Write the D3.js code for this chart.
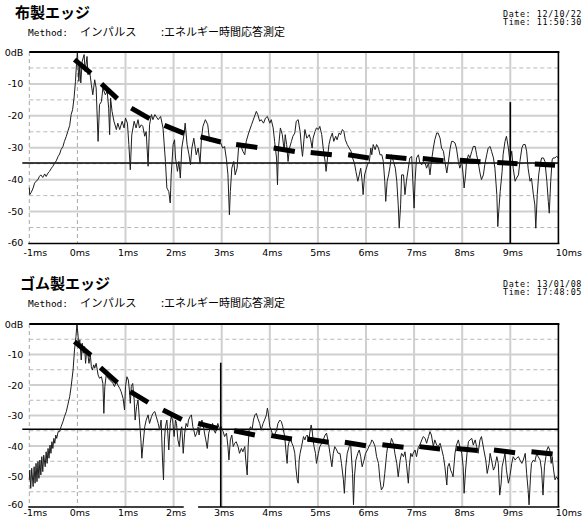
<!DOCTYPE html>
<html><head><meta charset="utf-8">
<script src="https://cdn.jsdelivr.net/npm/d3@7"></script>
<style>
html,body{margin:0;padding:0;background:#fff;}
svg{display:block;}
</style>
</head><body>
<script>
// ---------- data ----------
const xTicks = [-1,0,1,2,3,4,5,6,7,8,9,10];
const xTickLabels = ["-1ms","0ms","1ms","2ms","3ms","4ms","5ms","6ms","7ms","8ms","9ms","10ms"];
const yTicks = [0,-10,-20,-30,-40,-50,-60];
const yTickLabels = ["0dB","-10","-20","-30","-40","-50","-60"];
const yMinorTicks = [-5,-15,-25,-35,-45,-55];

const titles = ["布製エッジ","ゴム製エッジ"];
const methodLabel = "Method:";
const methodName = "インパルス";
const measureName = ":エネルギー時間応答測定";
const dates = ["Date: 12/10/22","Date: 13/01/08"];
const times = ["Time: 11:50:30","Time: 17:48:05"];

const thresholds = [-34.8, -34.5];
const cursorTimes = [9.0, 2.98];
const cursorTops = [-15.7, -12.7];

// 布製エッジ: [time ms, level dB]
const signalTop = [
[-1.00,-42.5],[-0.99,-44.7],[-0.96,-44.0],[-0.92,-42.6],[-0.89,-41.1],[-0.86,-40.5],[-0.82,-40.0],[-0.79,-39.0],[-0.76,-38.5],[-0.72,-39.3],[-0.68,-38.2],[-0.65,-39.0],[-0.61,-37.9],[-0.58,-37.4],[-0.54,-36.4],[-0.51,-35.8],[-0.47,-34.8],[-0.44,-34.1],[-0.40,-32.7],[-0.37,-32.0],[-0.34,-30.6],[-0.30,-29.6],[-0.27,-28.0],[-0.23,-26.4],[-0.20,-24.9],[-0.16,-23.0],[-0.13,-19.6],[-0.10,-18.1],[-0.07,-14.4],[-0.04,-9.2],[-0.02,-4.0],[0.0,0.0],
[0.03,-9.2],[0.05,-4.0],[0.07,-9.7],[0.10,-2.9],[0.14,-0.8],[0.16,-6.1],[0.20,-1.4],[0.22,-7.1],[0.25,-5.5],[0.29,-10.2],[0.32,-13.4],[0.36,-8.7],[0.39,-11.3],[0.43,-28.0],[0.46,-16.5],[0.50,-15.5],[0.53,-11.3],[0.58,-13.4],[0.62,-12.3],[0.65,-17.6],[0.67,-25.9],[0.69,-14.4],[0.72,-18.6],[0.76,-21.7],[0.81,-24.3],[0.84,-22.3],[0.88,-24.3],[0.93,-21.7],[0.97,-23.8],[1.00,-20.7],[1.04,-22.3],[1.07,-29.0],[1.10,-36.9],[1.13,-26.0],[1.18,-21.7],[1.22,-23.8],[1.26,-21.2],[1.29,-23.8],[1.33,-22.8],[1.36,-23.3],[1.40,-26.4],[1.43,-24.9],[1.47,-35.8],[1.50,-22.8],[1.54,-19.6],[1.57,-21.2],[1.61,-19.6],[1.68,-21.2],[1.73,-20.2],[1.78,-23.8],[1.83,-34.3],[1.86,-42.6],[1.90,-43.7],[1.93,-47.3],[1.95,-38.5],[1.99,-29.0],[2.02,-27.5],[2.04,-33.2],[2.08,-37.4],[2.11,-34.3],[2.14,-39.5],[2.17,-30.1],[2.22,-25.4],[2.24,-22.3],[2.28,-29.0],[2.32,-32.2],[2.35,-35.3],[2.38,-30.1],[2.42,-27.0],[2.47,-32.2],[2.51,-30.1],[2.55,-34.8],[2.58,-27.0],[2.61,-23.3],[2.66,-21.2],[2.71,-22.8],[2.75,-28.0],[2.78,-27.5],[2.83,-28.0],[2.87,-27.0],[2.92,-28.5],[2.98,-28.5],[3.02,-30.1],[3.06,-29.6],[3.10,-33.8],[3.13,-38.5],[3.16,-51.0],[3.18,-43.7],[3.21,-36.4],[3.25,-34.3],[3.28,-38.5],[3.32,-36.4],[3.35,-30.1],[3.39,-29.0],[3.44,-31.1],[3.48,-32.2],[3.51,-28.0],[3.56,-25.4],[3.62,-22.8],[3.67,-20.7],[3.72,-18.6],[3.75,-19.6],[3.79,-21.7],[3.82,-21.2],[3.87,-22.3],[3.91,-20.7],[3.95,-20.2],[4.00,-22.3],[4.03,-21.2],[4.07,-23.8],[4.10,-28.0],[4.14,-33.2],[4.16,-41.6],[4.18,-30.1],[4.22,-23.8],[4.26,-25.9],[4.30,-31.1],[4.32,-25.9],[4.35,-29.0],[4.38,-34.3],[4.41,-30.1],[4.45,-28.0],[4.48,-26.4],[4.52,-25.4],[4.55,-21.7],[4.59,-21.2],
[4.63,-24.9],[4.66,-30.1],[4.68,-32.7],[4.71,-27.5],[4.73,-24.3],[4.77,-27.0],[4.80,-26.4],[4.82,-25.9],[4.85,-27.5],[4.88,-30.1],[4.90,-27.0],[4.94,-24.9],[4.97,-23.8],[5.01,-24.3],[5.04,-23.3],[5.08,-25.9],[5.11,-30.1],[5.15,-34.3],[5.17,-37.4],[5.20,-33.2],[5.23,-29.0],[5.26,-27.0],[5.30,-25.4],[5.33,-28.0],[5.37,-26.4],[5.40,-27.5],[5.44,-25.4],[5.47,-25.9],[5.51,-24.3],[5.54,-24.9],[5.57,-27.5],[5.61,-29.0],[5.65,-30.1],[5.69,-31.1],[5.72,-33.2],[5.76,-34.8],[5.79,-37.4],[5.83,-40.5],[5.86,-38.5],[5.89,-36.4],[5.92,-40.5],[5.94,-44.7],[5.97,-38.5],[6.00,-36.9],[6.03,-35.3],[6.07,-34.3],[6.10,-30.1],[6.12,-32.2],[6.15,-29.0],[6.19,-30.6],[6.22,-29.0],[6.26,-30.1],[6.29,-32.2],[6.33,-32.2],[6.36,-34.3],[6.39,-40.5],[6.41,-46.8],[6.44,-40.5],[6.47,-38.5],[6.50,-35.8],[6.53,-32.2],[6.57,-34.3],[6.61,-36.4],[6.64,-40.5],[6.67,-47.9],[6.69,-55.2],[6.72,-47.9],[6.74,-38.5],[6.78,-38.5],[6.81,-44.7],[6.84,-40.5],[6.88,-36.4],[6.91,-33.2],[6.95,-32.7],[6.98,-42.6],[7.00,-48.9],[7.02,-40.5],[7.05,-33.2],[7.09,-32.2],[7.12,-34.8],[7.16,-35.3],[7.19,-34.3],[7.23,-34.8],[7.26,-36.4],[7.30,-34.8],[7.33,-38.5],[7.36,-34.3],[7.40,-30.1],[7.43,-27.5],[7.47,-25.4],[7.50,-25.4],[7.54,-27.0],[7.57,-30.1],[7.61,-31.1],[7.64,-34.3],[7.68,-37.9],[7.71,-34.8],[7.75,-30.1],[7.78,-28.0],[7.81,-28.0],[7.85,-28.5],[7.88,-30.1],[7.92,-34.3],[7.95,-36.4],[7.99,-34.3],[8.02,-38.5],[8.04,-42.6],[8.07,-38.5],[8.09,-34.3],[8.13,-32.2],[8.16,-33.2],[8.20,-31.1],[8.23,-29.6],[8.27,-29.6],[8.30,-32.2],[8.33,-34.3],[8.37,-37.9],[8.40,-40.0],[8.44,-38.5],[8.47,-35.3],[8.51,-32.2],[8.54,-30.1],[8.58,-29.6],[8.61,-31.1],[8.65,-33.2],[8.68,-36.4],[8.72,-44.7],[8.74,-54.7],[8.76,-49.9],[8.79,-43.7],[8.83,-37.4],[8.85,-32.2],[8.89,-28.0],[8.92,-26.4],[8.96,-30.1],[8.99,-34.3],[9.03,-31.1],[9.06,-36.4],[9.10,-40.5],[9.13,-39.5],[9.17,-38.5],[9.20,-34.3],[9.24,-30.1],[9.27,-29.0],[9.31,-29.0],[9.34,-31.1],[9.37,-36.4],[9.41,-40.5],[9.44,-39.5],[9.48,-44.7],[9.51,-47.9],[9.53,-55.2],[9.56,-44.7],[9.59,-38.5],[9.62,-35.3],[9.65,-33.2],[9.69,-33.2],[9.72,-34.3],[9.76,-40.5],[9.79,-46.8],[9.81,-50.5],[9.84,-40.5],[9.87,-33.8],[9.89,-33.2],[9.93,-33.2],[9.96,-32.7],[10.0,-33.2]
];

// ゴム製エッジ: [time ms, level dB]
const signalBottom = [
[-1.00,-51.1],[-0.99,-47.9],[-0.97,-53.9],[-0.95,-47.3],[-0.92,-53.3],[-0.90,-46.8],[-0.88,-52.2],[-0.86,-45.7],[-0.84,-51.7],[-0.82,-45.1],[-0.80,-50.6],[-0.78,-44.6],[-0.76,-49.5],[-0.74,-43.5],[-0.72,-48.4],[-0.70,-43.0],[-0.67,-46.8],[-0.65,-41.9],[-0.63,-45.7],[-0.61,-40.8],[-0.59,-44.0],[-0.57,-39.7],[-0.55,-42.4],[-0.53,-38.6],[-0.51,-40.8],[-0.49,-37.5],[-0.47,-39.1],[-0.45,-36.4],[-0.43,-37.5],[-0.40,-35.3],[-0.37,-35.3],[-0.34,-33.7],[-0.30,-32.0],[-0.27,-30.4],[-0.23,-28.7],[-0.20,-26.6],[-0.16,-23.8],[-0.13,-20.5],[-0.09,-15.1],[-0.06,-8.5],[-0.03,-4.2],[-0.01,0.0],
[0.01,-3.1],[0.03,-7.4],[0.05,-5.2],[0.08,-11.8],[0.10,-6.3],[0.12,-9.6],[0.15,-7.4],[0.17,-12.9],[0.19,-9.1],[0.22,-10.2],[0.24,-12.9],[0.27,-10.2],[0.29,-14.0],[0.31,-15.1],[0.34,-13.4],[0.36,-14.5],[0.39,-12.9],[0.43,-16.7],[0.46,-17.8],[0.50,-17.3],[0.53,-19.5],[0.55,-29.3],[0.57,-20.5],[0.60,-16.7],[0.64,-17.8],[0.67,-18.4],[0.71,-18.9],[0.74,-19.5],[0.77,-20.5],[0.81,-18.9],[0.84,-20.0],[0.88,-21.1],[0.91,-22.2],[0.95,-24.4],[0.98,-28.2],[1.00,-20.5],[1.03,-17.3],[1.06,-18.4],[1.08,-21.6],[1.10,-26.0],[1.12,-20.5],[1.15,-19.5],[1.18,-24.9],[1.20,-31.5],[1.23,-27.1],[1.26,-24.9],[1.29,-31.5],[1.32,-38.0],[1.34,-44.0],[1.36,-40.2],[1.40,-33.7],[1.43,-31.5],[1.47,-29.8],[1.50,-32.6],[1.54,-30.4],[1.57,-29.3],[1.61,-28.7],[1.64,-30.4],[1.68,-32.6],[1.71,-34.8],[1.74,-31.5],[1.77,-44.6],[1.79,-51.1],[1.81,-38.0],[1.83,-33.7],[1.86,-31.5],[1.88,-35.8],[1.90,-41.3],[1.93,-32.6],[1.95,-30.4],[1.98,-31.5],[2.01,-36.9],[2.04,-31.5],[2.06,-32.6],[2.09,-38.0],[2.12,-40.2],[2.15,-34.8],[2.17,-33.7],[2.20,-42.4],[2.23,-35.8],[2.26,-32.6],[2.29,-33.7],[2.31,-31.5],[2.34,-30.4],[2.37,-29.8],[2.40,-33.7],[2.42,-34.8],[2.45,-36.9],[2.48,-35.8],[2.51,-33.7],[2.53,-36.4],[2.56,-32.6],[2.59,-31.5],[2.62,-33.7],[2.65,-36.4],[2.67,-38.0],[2.70,-40.8],[2.73,-35.8],[2.76,-34.2],[2.78,-34.8],[2.81,-32.6],[2.84,-34.8],[2.87,-35.8],[2.90,-33.7],[2.92,-32.6],[2.96,-34.8],[2.99,-33.7],[3.03,-35.3],[3.06,-36.9],[3.10,-35.8],[3.13,-40.2],[3.15,-44.6],[3.18,-38.0],[3.21,-36.4],[3.24,-40.2],[3.27,-39.1],[3.30,-38.6],[3.34,-40.2],[3.37,-42.4],[3.41,-40.8],[3.44,-41.9],[3.48,-40.2],[3.50,-44.6],[3.53,-49.5],[3.55,-40.2],[3.57,-34.8],[3.60,-33.7],[3.63,-34.8],[3.66,-31.5],[3.69,-29.8],[3.72,-29.3],[3.75,-30.9],[3.79,-32.6],[3.82,-34.8],[3.86,-32.6],[3.89,-31.5],[3.93,-29.8],[3.95,-27.6],[3.97,-29.3],[4.00,-33.7],[4.03,-34.8],[4.07,-36.9],[4.10,-36.4],[4.14,-34.8],[4.17,-32.6],[4.21,-31.5],[4.24,-32.0],[4.27,-33.7],[4.31,-36.9],[4.34,-42.4],[4.36,-45.7],[4.38,-40.2],[4.41,-38.0],[4.43,-37.5],[4.46,-39.1],[4.49,-40.2],[4.52,-42.4],[4.54,-46.8],[4.57,-51.1],
[4.59,-52.2],[4.61,-44.6],[4.63,-42.4],[4.66,-40.2],[4.70,-36.9],[4.73,-38.0],[4.75,-36.9],[4.78,-36.4],[4.81,-38.6],[4.83,-35.8],[4.86,-33.1],[4.88,-34.8],[4.90,-38.0],[4.92,-40.2],[4.95,-42.4],[4.97,-45.7],[5.01,-42.4],[5.04,-40.2],[5.08,-39.1],[5.11,-38.0],[5.15,-36.4],[5.18,-35.8],[5.22,-39.1],[5.25,-42.4],[5.29,-46.8],[5.32,-42.4],[5.35,-40.2],[5.39,-41.3],[5.42,-42.4],[5.46,-42.4],[5.49,-45.7],[5.53,-51.1],[5.55,-55.5],[5.58,-46.8],[5.61,-42.4],[5.65,-40.2],[5.68,-39.1],[5.72,-49.0],[5.74,-59.3],[5.76,-50.1],[5.79,-44.6],[5.83,-42.4],[5.86,-41.3],[5.89,-43.5],[5.92,-46.8],[5.96,-44.6],[5.99,-42.4],[6.03,-41.3],[6.06,-40.2],[6.10,-39.1],[6.12,-38.0],[6.15,-38.6],[6.19,-40.2],[6.22,-43.5],[6.26,-45.7],[6.29,-51.1],[6.32,-54.4],[6.36,-53.3],[6.39,-49.0],[6.43,-42.4],[6.46,-39.1],[6.50,-39.7],[6.53,-37.5],[6.57,-39.1],[6.60,-42.4],[6.64,-45.7],[6.67,-50.1],[6.71,-44.6],[6.74,-42.4],[6.78,-43.5],[6.81,-41.9],[6.84,-45.7],[6.88,-52.2],[6.90,-46.8],[6.93,-42.4],[6.96,-43.5],[6.98,-42.4],[7.02,-41.3],[7.05,-43.5],[7.09,-40.2],[7.12,-39.7],[7.16,-38.0],[7.19,-36.9],[7.23,-37.5],[7.26,-39.1],[7.30,-36.9],[7.33,-35.3],[7.36,-36.4],[7.40,-40.2],[7.43,-38.0],[7.47,-39.7],[7.50,-40.2],[7.54,-39.1],[7.57,-40.8],[7.61,-43.5],[7.64,-46.8],[7.68,-52.8],[7.70,-46.8],[7.73,-45.7],[7.76,-47.9],[7.79,-49.0],[7.81,-50.1],[7.85,-42.4],[7.88,-39.7],[7.92,-38.0],[7.95,-40.2],[7.99,-42.4],[8.02,-46.8],[8.04,-55.5],[8.07,-47.9],[8.10,-42.4],[8.13,-38.6],[8.16,-38.0],[8.20,-37.5],[8.23,-39.7],[8.27,-38.0],[8.30,-40.2],[8.33,-42.4],[8.37,-38.0],[8.40,-36.9],[8.42,-38.6],[8.45,-41.3],[8.49,-44.6],[8.52,-49.0],[8.56,-45.7],[8.58,-42.4],[8.61,-44.6],[8.65,-47.9],[8.68,-46.8],[8.72,-43.5],[8.75,-45.7],[8.78,-56.1],[8.81,-52.2],[8.83,-46.8],[8.86,-44.6],[8.89,-42.4],[8.92,-47.9],[8.96,-52.2],[8.99,-50.1],[9.03,-45.7],[9.06,-43.5],[9.10,-44.6],[9.13,-44.0],[9.17,-43.5],[9.20,-44.6],[9.24,-45.7],[9.27,-44.6],[9.31,-42.4],[9.34,-49.0],[9.37,-54.4],[9.39,-59.3],[9.42,-50.1],[9.44,-45.7],[9.48,-44.6],[9.51,-45.1],[9.55,-42.4],[9.58,-43.5],[9.62,-44.6],[9.65,-47.9],[9.68,-56.1],[9.71,-46.8],[9.74,-43.5],[9.76,-41.3],[9.79,-40.2],[9.82,-41.3],[9.85,-45.7],[9.87,-43.5],[9.90,-47.9],[9.93,-51.1],[9.96,-50.1],[10.0,-51.1]
];

// decay trend dashes: consecutive pairs are start/end of each dash
const trendTop = [[-0.06,-2.4],[0.28,-6.6],[0.50,-10.0],[0.83,-14.6],[1.12,-17.6],[1.50,-20.9],[1.81,-23.0],[2.22,-25.5],[2.56,-26.6],[2.98,-28.2],[3.30,-29.0],[3.74,-29.9],[4.08,-30.1],[4.52,-31.2],[4.85,-31.5],[5.29,-32.2],[5.63,-32.2],[6.06,-33.2],[6.41,-32.7],[6.84,-33.4],[7.18,-33.4],[7.61,-34.1],[7.95,-33.9],[8.38,-34.4],[8.73,-34.6],[9.15,-35.0],[9.51,-35.1],[9.93,-35.5]];
const trendBottom = [[-0.06,-5.8],[0.28,-10.2],[0.48,-14.3],[0.83,-19.2],[1.10,-22.2],[1.47,-25.7],[1.78,-28.2],[2.17,-31.3],[2.51,-32.6],[2.92,-34.2],[3.26,-35.0],[3.69,-36.4],[4.03,-36.6],[4.46,-37.7],[4.78,-37.7],[5.22,-38.8],[5.56,-38.8],[6.00,-39.9],[6.34,-39.6],[6.78,-40.4],[7.11,-40.2],[7.54,-41.0],[7.88,-40.8],[8.32,-41.5],[8.66,-41.3],[9.10,-42.2],[9.44,-41.9],[9.88,-42.6]];

// ---------- drawing ----------
const svg = d3.select("body").append("svg").attr("width",587).attr("height",519);
const mono = "'DejaVu Sans Mono', monospace";
const jp = "'Noto Sans CJK JP', sans-serif";
const lab = "'DejaVu Sans', sans-serif";

const panels = [
  {top:52, bottom:243.5, titleX:15, titleY:18, methodY:36, dateY:16.5, timeY:25, labelPad:6, lowLift:1.5,
   signal:signalTop, trend:trendTop, axisGap:null},
  {top:324, bottom:507, titleX:20, titleY:289, methodY:307, dateY:286.5, timeY:295, labelPad:2.5, lowLift:2.5,
   signal:signalBottom, trend:trendBottom, axisGap:[2.19,2.53]}
];

panels.forEach((p,i)=>{
  const g = svg.append("g");
  const x = d3.scaleLinear().domain([-1,10]).range([29.3,558.4]);
  const y = d3.scaleLinear().domain([0,-60]).range([p.top,p.bottom]);

  // header texts
  g.append("text").attr("x",p.titleX).attr("y",p.titleY).text(titles[i])
    .style("font-family",jp).style("font-weight","bold").style("font-size","15px").attr("fill","#000");
  g.append("text").attr("x",28).attr("y",p.methodY).text(methodLabel)
    .style("font-family",mono).style("font-size","9.5px");
  g.append("text").attr("x",80).attr("y",p.methodY).text(methodName)
    .style("font-family",jp).style("font-size","11.3px");
  g.append("text").attr("x",161).attr("y",p.methodY).text(measureName)
    .style("font-family",jp).style("font-size","11px");
  g.append("text").attr("x",503).attr("y",p.dateY).text(dates[i])
    .style("font-family",mono).style("font-size","8.4px").style("letter-spacing","0.6px");
  g.append("text").attr("x",503).attr("y",p.timeY).text(times[i])
    .style("font-family",mono).style("font-size","8.4px").style("letter-spacing","0.6px");

  // grid
  g.selectAll(".hminor").data(yMinorTicks).join("line")
    .attr("x1",x(-1)).attr("x2",x(10)).attr("y1",d=>y(d)).attr("y2",d=>y(d))
    .attr("stroke","#b8b8b8").attr("stroke-width",1).attr("stroke-dasharray","4,3");
  g.selectAll(".hmajor").data(yTicks.filter(d=>d<0 && d>-60)).join("line")
    .attr("x1",x(-1)).attr("x2",x(10)).attr("y1",d=>y(d)).attr("y2",d=>y(d))
    .attr("stroke","#cfcfcf").attr("stroke-width",2);
  g.selectAll(".vmajor").data(xTicks.filter(d=>d>0 && d<10)).join("line")
    .attr("x1",d=>x(d)).attr("x2",d=>x(d)).attr("y1",y(0)).attr("y2",y(-60))
    .attr("stroke","#cfcfcf").attr("stroke-width",2);
  g.selectAll(".vdash").data(xTicks.filter(d=>d<=0)).join("line")
    .attr("x1",d=>x(d)).attr("x2",d=>x(d)).attr("y1",y(0)).attr("y2",y(-60))
    .attr("stroke","#a8a8a8").attr("stroke-width",1).attr("stroke-dasharray","4,3");

  // threshold line
  g.append("line").attr("x1",x(-1)-7).attr("x2",x(10)).attr("y1",y(thresholds[i])).attr("y2",y(thresholds[i]))
    .attr("stroke","#000").attr("stroke-width",1.6);

  // signal
  g.append("path").datum(p.signal)
    .attr("d",d3.line().x(d=>x(d[0])).y(d=>y(d[1])))
    .attr("fill","none").attr("stroke","#1e1e1e").attr("stroke-width",1);

  // trend dashes
  const dashes = d3.range(0,p.trend.length,2).map(k=>[p.trend[k],p.trend[k+1]]);
  g.selectAll(".dash").data(dashes).join("line")
    .attr("x1",d=>x(d[0][0])).attr("y1",d=>y(d[0][1]))
    .attr("x2",d=>x(d[1][0])).attr("y2",d=>y(d[1][1]))
    .attr("stroke","#000").attr("stroke-width",5).attr("stroke-linecap","butt");

  // cursor
  g.append("line").attr("x1",x(cursorTimes[i])).attr("x2",x(cursorTimes[i]))
    .attr("y1",y(cursorTops[i])).attr("y2",y(-60))
    .attr("stroke","#000").attr("stroke-width",1.6);

  // frame
  g.append("line").attr("x1",x(-1)).attr("x2",x(10)+1).attr("y1",y(0)).attr("y2",y(0))
    .attr("stroke","#000").attr("stroke-width",2.2);
  g.append("line").attr("x1",x(10)).attr("x2",x(10)).attr("y1",y(0)).attr("y2",y(-60))
    .attr("stroke","#000").attr("stroke-width",1.6);
  const segs = p.axisGap ? [[-1,p.axisGap[0]],[p.axisGap[1],10]] : [[-1,10]];
  g.selectAll(".bax").data(segs).join("line")
    .attr("x1",d=>x(d[0])-1).attr("x2",d=>x(d[1])+1).attr("y1",y(-60)).attr("y2",y(-60))
    .attr("stroke","#000").attr("stroke-width",1.6);

  // axes labels
  const ax = g.append("g").attr("transform",`translate(0,${y(-60)})`)
    .call(d3.axisBottom(x).tickValues(xTicks).tickFormat((d,k)=>xTickLabels[k]).tickSize(0).tickPadding(p.labelPad));
  ax.select(".domain").remove();
  ax.selectAll("text").style("font-family",lab).style("font-size","9.5px").attr("fill","#000")
    .attr("dx",d=> d===-1 ? 5.5 : (d===10 ? 10 : 2));
  const ay = g.append("g").attr("transform",`translate(${x(-1)},0)`)
    .call(d3.axisLeft(y).tickValues(yTicks).tickFormat((d,k)=>yTickLabels[k]).tickSize(0).tickPadding(6));
  ay.select(".domain").remove();
  ay.selectAll("text").style("font-family",lab).style("font-size","9.5px").attr("fill","#000")
    .attr("y",d=> d===-60 ? -p.lowLift : 0);
});
</script>
</body></html>
